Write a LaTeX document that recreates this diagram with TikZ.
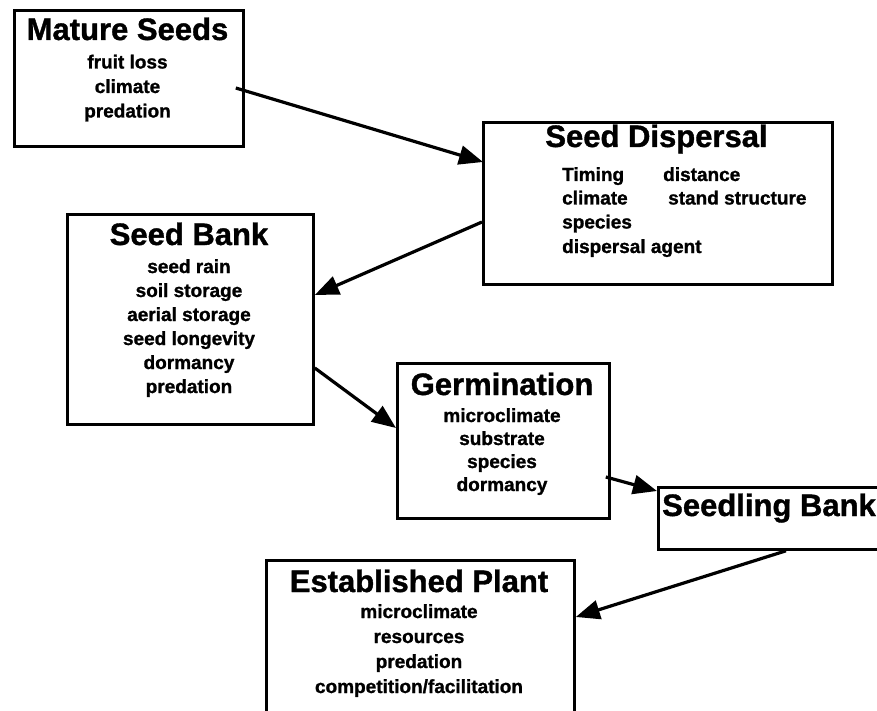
\documentclass[tikz,border=0pt]{standalone}
\usepackage{fontspec}
\setmainfont{Liberation Sans}[BoldFeatures={FakeBold=1.2}]
\usetikzlibrary{arrows.meta,calc}
\begin{document}
\begin{tikzpicture}[x=1pt,y=-1pt,
  box/.style={draw, line width=2.8pt, rectangle, inner sep=0pt, anchor=north west},
  ttl/.style={font=\fontsize{31}{36}\selectfont\bfseries, inner sep=0pt, anchor=base},
  txt/.style={font=\fontsize{19}{24}\selectfont\bfseries, inner sep=0pt, anchor=base},
  txtl/.style={txt, anchor=base west},
  ttll/.style={ttl, anchor=base west},
  arr/.style={line width=3.2pt, -{Triangle[length=24pt,width=19pt]}}
]
\useasboundingbox (0,0) rectangle (877,711);
\clip (0,0) rectangle (877,711);
\fill[white] (0,0) rectangle (877,711);

% boxes
\node[box, minimum width=229pt, minimum height=136pt] (ms) at (13,9) {};
\node[box, minimum width=349pt, minimum height=162pt] (sd) at (482,121) {};
\node[box, minimum width=246pt, minimum height=210pt] (sb) at (66,213) {};
\node[box, minimum width=212pt, minimum height=155pt] (ge) at (396,362) {};
\node[box, minimum width=260pt, minimum height=62pt] (sl) at (657,486) {};
\node[box, minimum width=308pt, minimum height=190pt] (ep) at (265,559) {};

% Mature Seeds
\node[ttl] (mst) at (127.5,40) {Mature Seeds};
\node[txt] (ms1) at (127.5,68.5) {fruit loss};
\node[txt] (ms2) at (127.5,93) {climate};
\node[txt] (ms3) at (127.5,117.5) {predation};

% Seed Dispersal
\node[ttl] (sdt) at (656.5,147) {Seed Dispersal};
\node[txtl] (sd1) at (562,181) {Timing};
\node[txtl] (sd2) at (663,181) {distance};
\node[txtl] (sd3) at (562,204.5) {climate};
\node[txtl] (sd4) at (668,204.5) {stand structure};
\node[txtl] (sd5) at (562,228.5) {species};
\node[txtl] (sd6) at (562,253) {dispersal agent};

% Seed Bank
\node[ttl] (sbt) at (189,245) {Seed Bank};
\node[txt] (sb1) at (189,273) {seed rain};
\node[txt] (sb2) at (189,297) {soil storage};
\node[txt] (sb3) at (189,321) {aerial storage};
\node[txt] (sb4) at (189,345) {seed longevity};
\node[txt] (sb5) at (189,369) {dormancy};
\node[txt] (sb6) at (189,393) {predation};

% Germination
\node[ttl] (get) at (502,395) {Germination};
\node[txt] (ge1) at (502,422) {microclimate};
\node[txt] (ge2) at (502,445) {substrate};
\node[txt] (ge3) at (502,468) {species};
\node[txt] (ge4) at (502,491) {dormancy};

% Seedling Bank
\node[ttll] (slt) at (662,516) {Seedling Bank};

% Established Plant
\node[ttl] (ept) at (419,592) {Established Plant};
\node[txt] (ep1) at (419,618) {microclimate};
\node[txt] (ep2) at (419,643) {resources};
\node[txt] (ep3) at (419,668) {predation};
\node[txt] (ep4) at (419,693) {competition/facilitation};

% arrows
\draw[arr] ($(ms.north east)+(-9,79)$) -- ($(sd.north west)+(1,41)$);
\draw[arr] ($(sd.north west)+(0,101)$) -- ($(sb.north east)+(0,82)$);
\draw[arr] ($(sb.north east)+(0,155)$) -- ($(ge.north west)+(0,66)$);
\draw[arr] ($(ge.north east)+(-5,115)$) -- ($(sl.north west)+(0,5)$);
\draw[arr] ($(sl.south west)+(129,0)$) -- ($(ep.north east)+(0,58)$);
\end{tikzpicture}
\end{document}
